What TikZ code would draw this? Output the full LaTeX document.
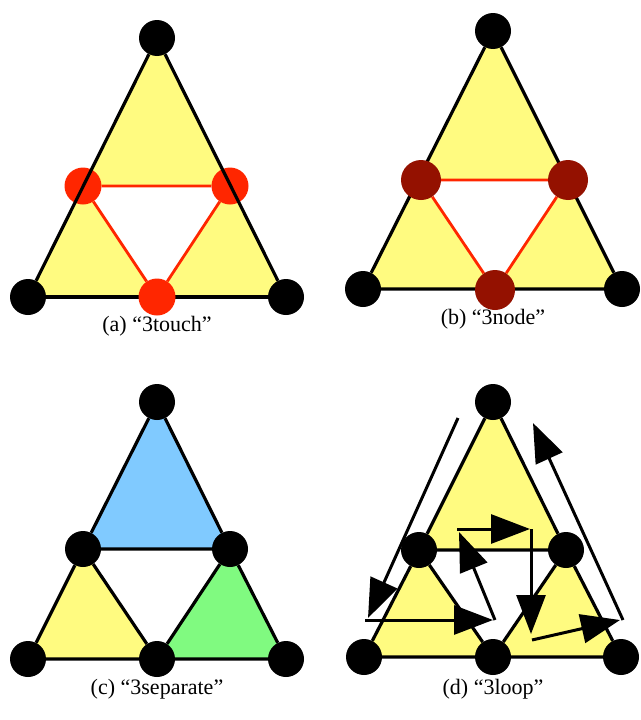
\documentclass[tikz,border=0pt]{standalone}
\usepackage{fontspec}
\setmainfont{Liberation Serif}
\usetikzlibrary{arrows.meta,backgrounds}

\definecolor{lemon}{RGB}{255,251,128}
\definecolor{sky}{RGB}{128,202,255}
\definecolor{mint}{RGB}{128,250,128}
\definecolor{brightred}{RGB}{255,38,0}
\definecolor{darkred}{RGB}{148,17,0}

\begin{document}
\begin{tikzpicture}[x=1pt, y=-1pt, every node/.style={font=\fontsize{22}{26}\selectfont},
	vtx/.style={circle, fill=black, inner sep=0pt, minimum size=36pt},
	redvtx/.style={circle, fill=brightred, inner sep=0pt, minimum size=37pt},
	darkvtx/.style={circle, fill=darkred, inner sep=0pt, minimum size=40pt},
	edge/.style={line width=3.2pt, black},
	rededge/.style={line width=2.8pt, brightred},
	walk/.style={line width=3pt, -{Triangle[length=39pt, width=29pt]}}]
	\useasboundingbox (0,0) rectangle (640,720);
	% (a)
	\node[vtx] (a1) at (157,38) {};
	\node[vtx] (a2) at (28,297) {};
	\node[vtx] (a3) at (286,297) {};
	\draw[edge] (a2) -- (a3);
	\node[redvtx] (ar1) at (83,186) {};
	\node[redvtx] (ar2) at (230,186) {};
	\node[redvtx] (ar3) at (157,297) {};
	\draw[edge] (a1) -- (a2) (a1) -- (a3);
	\draw[rededge] (ar1) -- (ar2) (ar2) -- (ar3) (ar3) -- (ar1);
	\begin{scope}[on background layer]
		\fill[lemon, even odd rule] (a1.center) -- (a2.center) -- (a3.center) -- cycle
			(ar1.center) -- (ar2.center) -- (ar3.center) -- cycle;
	\end{scope}
	\node (capa) at (157,326) {(a) “3touch”};
	% (b)
	\node[vtx] (b1) at (493,31) {};
	\node[vtx] (b2) at (363,289) {};
	\node[vtx] (b3) at (622,289) {};
	\draw[edge] (b1) -- (b2) (b2) -- (b3) (b3) -- (b1);
	\node[darkvtx] (br1) at (421,180) {};
	\node[darkvtx] (br2) at (568,180) {};
	\node[darkvtx] (br3) at (495,290) {};
	\draw[rededge] (br1) -- (br2) (br2) -- (br3) (br3) -- (br1);
	\begin{scope}[on background layer]
		\fill[lemon, even odd rule] (b1.center) -- (b2.center) -- (b3.center) -- cycle
			(br1.center) -- (br2.center) -- (br3.center) -- cycle;
	\end{scope}
	\node (capb) at (493,319) {(b) “3node”};
	% (c)
	\node[vtx] (c1) at (157,402) {};
	\node[vtx] (c2) at (83,549) {};
	\node[vtx] (c3) at (230,549) {};
	\node[vtx] (c4) at (28,659) {};
	\node[vtx] (c5) at (157,659) {};
	\node[vtx] (c6) at (286,659) {};
	\begin{scope}[on background layer]
		\fill[sky] (c1.center) -- (c2.center) -- (c3.center) -- cycle;
		\fill[lemon] (c2.center) -- (c4.center) -- (c5.center) -- cycle;
		\fill[mint] (c3.center) -- (c5.center) -- (c6.center) -- cycle;
	\end{scope}
	\draw[edge] (c1) -- (c2) (c2) -- (c4) (c4) -- (c5) (c5) -- (c6) (c6) -- (c3) (c3) -- (c1);
	\draw[edge] (c2) -- (c3) (c2) -- (c5) (c3) -- (c5);
	\node (capc) at (157,689) {(c) “3separate”};
	% (d)
	\node[vtx] (d1) at (493,402) {};
	\node[vtx] (d2) at (419,550) {};
	\node[vtx] (d3) at (566,550) {};
	\node[vtx] (d4) at (364,657) {};
	\node[vtx] (d5) at (493,657) {};
	\node[vtx] (d6) at (621,657) {};
	\begin{scope}[on background layer]
		\fill[lemon] (d1.center) -- (d2.center) -- (d3.center) -- cycle;
		\fill[lemon] (d2.center) -- (d4.center) -- (d5.center) -- cycle;
		\fill[lemon] (d3.center) -- (d5.center) -- (d6.center) -- cycle;
	\end{scope}
	\draw[edge] (d1) -- (d2) (d2) -- (d4) (d4) -- (d5) (d5) -- (d6) (d6) -- (d3) (d3) -- (d1);
	\draw[edge] (d2) -- (d3) (d2) -- (d5) (d3) -- (d5);
	\coordinate (w1) at (458,418);
	\coordinate (w2) at (368,618);
	\coordinate (w3) at (365,620);
	\coordinate (w4) at (493,620);
	\coordinate (w5) at (495,620);
	\coordinate (w6) at (459,532);
	\coordinate (w7) at (457,529);
	\coordinate (w8) at (530,529);
	\coordinate (w9) at (531,529);
	\coordinate (w10) at (531,634);
	\coordinate (w11) at (532,640);
	\coordinate (w12) at (620,620);
	\coordinate (w13) at (623,620);
	\coordinate (w14) at (533,423);
	\draw[walk] (w1) -- (w2);
	\draw[walk] (w3) -- (w4);
	\draw[walk] (w5) -- (w6);
	\draw[walk] (w7) -- (w8);
	\draw[walk] (w9) -- (w10);
	\draw[walk] (w11) -- (w12);
	\draw[walk] (w13) -- (w14);
	\node (capd) at (493,689) {(d) “3loop”};
\end{tikzpicture}
\end{document}
